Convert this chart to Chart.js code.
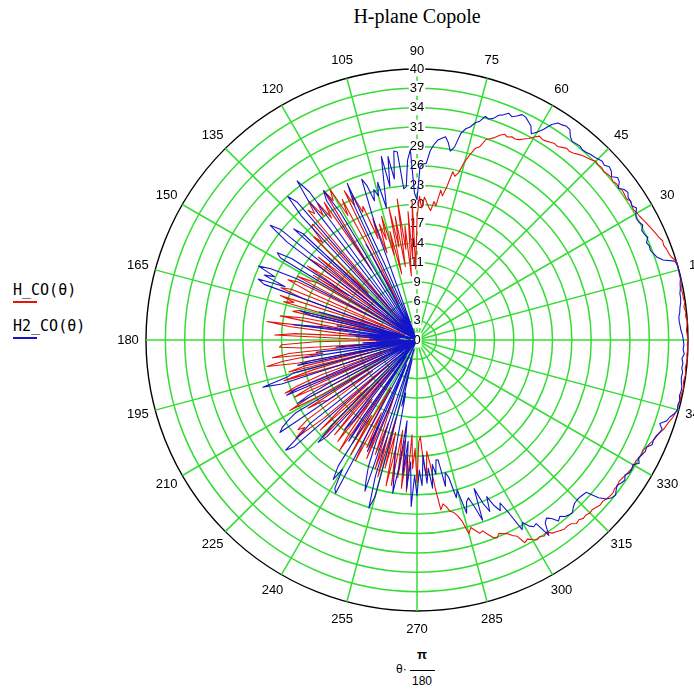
<!DOCTYPE html>
<html>
<head>
<meta charset="utf-8">
<title>H-plane Copole</title>
<script src="https://cdn.jsdelivr.net/npm/chart.js@4.4.1/dist/chart.umd.min.js"></script>
<style>
  html, body { margin: 0; padding: 0; background: #fff; width: 694px; height: 691px; overflow: hidden; }
  #plot { position: absolute; left: 98px; top: 21px; }
  .txt { position: absolute; color: #000; white-space: nowrap; }
  #title { left: 0; width: 834px; top: 5px; text-align: center; font: 20px "Liberation Serif", "DejaVu Serif", serif; }
  .leg { font: 15px "DejaVu Sans Mono", "Liberation Mono", monospace; }
  .swatch { position: absolute; height: 1.5px; width: 24px; }
  .axl { font: 12px "Liberation Sans", Arial, sans-serif; }
</style>
</head>
<body>
<div id="title" class="txt">H-plane Copole</div>

<div class="txt leg" style="left:13px; top:281px;">H_CO(θ)</div>
<div class="swatch" style="left:13px; top:301px; background:#e4140c;"></div>
<div class="txt leg" style="left:13px; top:317px;">H2_CO(θ)</div>
<div class="swatch" style="left:13px; top:337px; background:#1414c8;"></div>

<div class="txt axl" style="left:396px; top:662px;">θ·</div>
<div class="txt axl" style="left:417px; top:647px; font-weight:bold; font-size:13px;">π</div>
<div style="position:absolute; left:410px; top:670px; width:25px; height:1px; background:#000;"></div>
<div class="txt axl" style="left:412px; top:674px;">180</div>

<canvas id="plot" width="638" height="638"></canvas>

<script>
// Polar angle of each sample, degrees (counter-clockwise from the right-hand axis)
const thetaDeg = Array.from({ length: 360 }, (_, k) => k);

// Labelled angle spokes
const angleTicks = [0, 15, 30, 45, 60, 75, 90, 105, 120, 135, 150, 165,
                    180, 195, 210, 225, 240, 255, 270, 285, 300, 315, 330, 345];

// Radial rings: 14 equal divisions of 0..40, labelled with rounded values
const radialMax = 40;
const radialTicks = Array.from({ length: 15 }, (_, k) => radialMax * k / 14);
const radialTickLabels = ['0', '3', '6', '9', '11', '14', '17', '20', '23', '26', '29', '31', '34', '37', '40'];

// H_CO(θ), one value per degree, θ = 0..359
const hCo = [
  40.0, 39.9, 39.8, 39.9, 40.0, 39.8, 39.9, 39.7, 39.9, 39.8,
  39.8, 39.7, 39.9, 40.0, 39.9, 40.0, 40.0, 40.0, 39.5, 39.3,
  39.2, 39.0, 39.1, 38.8, 38.6, 38.4, 38.2, 38.0, 37.8, 37.6,
  37.5, 37.3, 37.4, 37.6, 37.3, 37.4, 37.5, 37.3, 37.4, 37.2,
  37.4, 37.3, 37.1, 37.3, 37.2, 37.3, 37.0, 36.8, 36.6, 36.3,
  36.0, 35.8, 35.9, 35.6, 35.3, 35.4, 35.2, 35.0, 34.9, 35.1,
  34.6, 34.0, 33.6, 33.2, 33.0, 33.1, 32.8, 33.0, 32.6, 32.0,
  31.6, 31.3, 30.0, 29.6, 28.5, 27.3, 25.5, 24.8, 25.4, 23.0,
  21.6, 22.4, 20.0, 20.6, 19.2, 19.7, 20.4, 21.1, 19.5, 21.2,
  18.0, 10.5, 20.5, 12.0, 19.0, 9.5, 17.0, 13.5, 21.0, 11.0,
  18.5, 14.0, 20.0, 10.0, 16.5, 13.0, 19.0, 15.5, 18.0, 13.6,
  19.0, 16.0, 21.3, 20.5, 23.5, 22.0, 24.5, 6.0, 23.5, 21.0,
  25.7, 24.0, 26.0, 12.3, 24.5, 22.0, 25.0, 23.0, 26.0, 24.0,
  25.0, 3.0, 23.0, 22.8, 20.0, 21.5, 10.0, 18.0, 2.0, 15.0,
  19.0, 8.0, 17.5, 20.0, 4.0, 16.0, 19.5, 12.0, 18.0, 3.0,
  17.0, 18.0, 20.0, 6.0, 19.5, 21.0, 17.0, 2.0, 20.0, 21.5,
  18.0, 5.0, 21.2, 19.0, 20.5, 8.0, 18.0, 18.8, 4.0, 17.0,
  20.5, 14.0, 9.0, 22.3, 19.0, 12.0, 6.0, 18.0, 21.0, 10.0,
  3.0, 15.0, 20.0, 20.3, 17.0, 5.0, 19.0, 21.5, 14.0, 20.0,
  22.5, 18.0, 4.0, 17.0, 19.5, 7.0, 16.0, 20.5, 12.0, 2.0,
  15.0, 19.0, 21.0, 6.0, 17.5, 20.0, 13.0, 3.0, 18.0, 21.5,
  16.0, 5.0, 19.0, 16.5, 16.1, 8.0, 20.0, 22.0, 21.0, 23.0,
  18.0, 4.0, 15.0, 19.5, 10.0, 17.0, 20.0, 6.0, 14.0, 18.5,
  3.0, 16.0, 19.0, 11.0, 17.0, 20.0, 5.0, 15.0, 18.0, 13.0,
  19.5, 8.0, 16.0, 20.0, 12.0, 17.5, 14.0, 19.0, 9.0, 12.5,
  18.0, 13.0, 20.0, 15.0, 21.0, 12.0, 19.5, 14.0, 22.0, 16.0,
  21.8, 13.5, 20.5, 15.0, 22.0, 17.0, 22.5, 14.0, 19.0, 16.0,
  21.0, 15.0, 14.3, 18.0, 20.0, 16.5, 18.3, 22.0, 25.3, 24.5,
  25.0, 25.8, 26.0, 26.6, 27.6, 29.6, 28.8, 29.4, 30.0, 29.8,
  30.5, 31.2, 31.5, 31.0, 31.3, 31.5, 32.1, 32.5, 33.9, 33.6,
  34.0, 34.4, 34.2, 34.5, 34.2, 34.8, 35.0, 35.2, 35.4, 35.3,
  35.4, 35.9, 35.7, 36.0, 35.9, 36.1, 36.0, 36.2, 36.4, 36.3,
  36.5, 36.6, 36.7, 36.5, 36.6, 36.4, 36.5, 36.7, 36.8, 36.9,
  37.0, 36.9, 37.1, 37.2, 37.1, 37.4, 37.6, 37.9, 38.1, 38.3,
  38.7, 38.9, 39.1, 39.4, 39.6, 39.8, 39.7, 39.9, 39.8, 39.9,
  40.0, 39.8, 39.9, 40.0, 39.8, 39.9, 40.0, 39.9, 40.0, 39.9
];

// H2_CO(θ), one value per degree, θ = 0..359
const h2Co = [
  39.3, 39.2, 39.0, 38.9, 38.8, 38.8, 39.0, 39.1, 39.3, 39.4,
  39.4, 39.6, 39.7, 39.9, 40.0, 40.0, 40.0, 39.8, 38.2, 37.5,
  37.2, 36.9, 37.0, 36.8, 37.3, 37.0, 36.9, 37.4, 37.1, 37.0,
  37.3, 37.8, 37.4, 37.6, 37.6, 38.0, 37.8, 37.2, 37.9, 38.1,
  37.5, 38.0, 38.2, 37.8, 38.0, 37.8, 37.6, 37.5, 37.3, 37.2,
  37.4, 37.3, 37.2, 37.6, 38.4, 38.5, 38.3, 38.2, 37.5, 36.3,
  35.4, 34.8, 35.8, 36.2, 36.6, 36.7, 36.2, 35.8, 36.1, 35.6,
  35.3, 34.6, 34.3, 34.5, 33.6, 33.2, 32.4, 32.0, 31.2, 29.0,
  28.3, 29.5, 30.3, 30.0, 29.7, 29.0, 28.0, 26.1, 26.0, 25.6,
  20.7, 21.7, 28.1, 26.6, 22.7, 22.4, 27.9, 28.1, 24.0, 27.4,
  23.0, 27.6, 23.2, 20.0, 24.0, 22.0, 23.1, 21.5, 24.0, 25.1,
  18.0, 3.0, 1.0, 12.0, 25.3, 21.6, 2.0, 0.5, 16.0, 4.0,
  1.0, 22.0, 26.0, 24.5, 2.0, 0.5, 27.0, 29.4, 26.0, 1.0,
  0.5, 27.0, 28.5, 25.0, 3.0, 0.5, 1.0, 23.0, 24.5, 2.0,
  0.5, 26.0, 27.5, 24.0, 1.5, 0.5, 6.0, 22.0, 24.3, 23.5,
  2.0, 0.5, 1.0, 20.0, 24.0, 25.8, 23.0, 24.5, 21.0, 25.1,
  24.0, 2.0, 0.5, 8.0, 15.0, 1.0, 17.8, 16.0, 2.0, 5.0,
  12.0, 1.0, 14.0, 18.4, 3.0, 10.0, 2.5, 9.0, 4.0, 7.0,
  2.0, 6.0, 1.0, 8.0, 3.0, 12.0, 0.5, 15.0, 4.0, 17.0,
  1.0, 16.0, 18.0, 2.0, 0.5, 18.9, 20.0, 23.8, 21.0, 1.5,
  0.5, 10.0, 19.0, 20.9, 2.0, 0.5, 14.0, 18.0, 20.0, 1.0,
  0.5, 21.0, 22.5, 23.7, 24.4, 1.0, 0.5, 3.0, 20.0, 22.0,
  25.3, 24.0, 1.5, 0.5, 5.0, 18.0, 21.0, 19.5, 2.0, 0.5,
  9.0, 17.0, 15.0, 1.0, 0.5, 14.0, 18.0, 3.0, 22.0, 24.0,
  22.0, 25.0, 25.6, 2.0, 0.5, 12.0, 18.0, 4.0, 16.0, 20.0,
  22.0, 23.6, 1.5, 21.0, 25.8, 24.0, 3.0, 10.0, 8.0, 17.0,
  19.0, 22.9, 18.9, 12.0, 20.0, 15.0, 22.0, 18.0, 24.6, 20.0,
  23.0, 19.2, 21.5, 17.0, 21.2, 19.0, 22.0, 18.5, 20.0, 17.9,
  18.0, 22.0, 20.0, 20.8, 24.0, 22.9, 26.6, 25.0, 24.5, 26.0,
  28.3, 23.5, 26.0, 27.5, 25.3, 27.0, 28.0, 27.0, 29.0, 32.0,
  31.1, 32.0, 32.5, 32.3, 34.8, 33.0, 32.5, 33.0, 33.9, 33.5,
  34.0, 34.2, 34.3, 33.8, 33.5, 33.4, 33.4, 33.5, 33.6, 35.5,
  36.5, 37.0, 37.2, 36.8, 36.5, 36.8, 37.0, 36.6, 37.0, 37.0,
  36.8, 37.5, 37.0, 37.3, 37.5, 37.4, 38.0, 37.9, 38.0, 38.3,
  38.5, 37.9, 38.7, 39.0, 39.5, 39.8, 39.7, 39.8, 39.6, 39.7,
  39.7, 39.5, 39.4, 39.5, 39.3, 39.4, 39.2, 39.5, 39.3, 39.4
];

// The radar scale runs clockwise from the top; spoke i therefore sits at θ = 90 - i.
const spokeTheta = thetaDeg.map(i => (90 - i + 360) % 360);
const chartLabels = spokeTheta.map(t => String(t));
const byTheta = vals => spokeTheta.map(t => vals[t]);

const GRID_GREEN = '#35dc35';
const LABEL_GAP = 18;   // distance from the outer ring to the centre of each angle label
const isLabelledSpoke = index => angleTicks.includes(spokeTheta[index]);

// Angle labels centred on a circle just outside the plot, placed with the scale's own geometry
const angleLabelPlugin = {
  id: 'angleLabels',
  afterDraw(chart) {
    const scale = chart.scales.r;
    const ctx = chart.ctx;
    ctx.save();
    ctx.font = '13px "Liberation Sans", Arial, sans-serif';
    ctx.fillStyle = '#000';
    ctx.textAlign = 'center';
    ctx.textBaseline = 'middle';
    angleTicks.forEach(theta => {
      const index = spokeTheta.indexOf(theta);
      const p = scale.getPointPosition(index, scale.drawingArea + LABEL_GAP);
      ctx.fillText(String(theta), p.x, p.y);
    });
    ctx.restore();
  }
};

new Chart(document.getElementById('plot'), {
  type: 'radar',
  data: {
    labels: chartLabels,
    datasets: [
      {
        label: 'H_CO(θ)',
        data: byTheta(hCo),
        borderColor: '#e4140c',
        borderWidth: 1.1,
        pointRadius: 0,
        fill: false,
        order: 2
      },
      {
        label: 'H2_CO(θ)',
        data: byTheta(h2Co),
        borderColor: '#1414c8',
        borderWidth: 1.1,
        pointRadius: 0,
        fill: false,
        order: 1
      }
    ]
  },
  plugins: [angleLabelPlugin],
  options: {
    responsive: false,
    animation: false,
    events: [],
    layout: { padding: 40 },
    elements: { line: { tension: 0, borderJoinStyle: 'round' } },
    plugins: { legend: { display: false }, tooltip: { enabled: false }, title: { display: false } },
    scales: {
      r: {
        min: -0.0001,
        max: radialMax,
        startAngle: 0,
        afterBuildTicks: scale => { scale.ticks = radialTicks.map(v => ({ value: v })); },
        grid: {
          circular: true,
          color: ctx => (ctx.index === radialTicks.length - 1 ? '#000' : GRID_GREEN),
          lineWidth: ctx => (ctx.index === radialTicks.length - 1 ? 1.4 : 1.5)
        },
        angleLines: {
          color: ctx => (isLabelledSpoke(ctx.index) ? GRID_GREEN : 'rgba(0,0,0,0)'),
          lineWidth: ctx => (isLabelledSpoke(ctx.index) ? 1.5 : 0)
        },
        ticks: {
          color: '#000',
          font: { family: '"Liberation Sans", Arial, sans-serif', size: 13 },
          backdropColor: '#fff',
          backdropPadding: { x: 1, y: 1 },
          showLabelBackdrop: true,
          callback: (value, index) => radialTickLabels[index]
        },
        pointLabels: {
          display: false,
          callback: label => (angleTicks.includes(Number(label)) ? label : '')
        }
      }
    }
  }
});
</script>
</body>
</html>
